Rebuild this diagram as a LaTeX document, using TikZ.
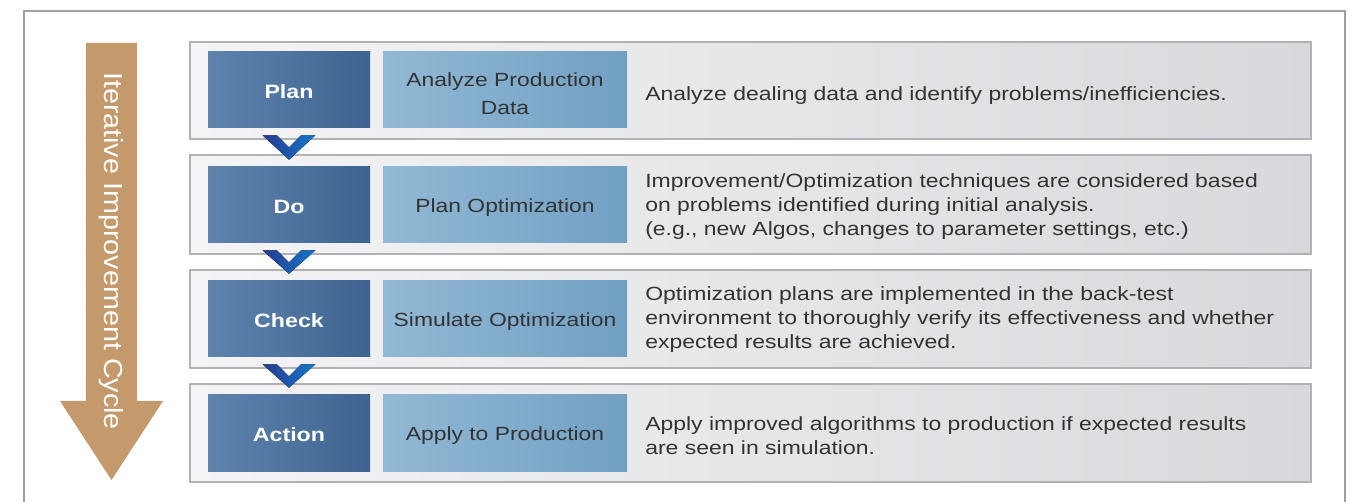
\documentclass[tikz,border=0pt]{standalone}
\usepackage{fontspec}
\setmainfont{Liberation Sans}[FakeStretch=1.2]
\newfontfamily\arrowfont{Liberation Sans}[FakeStretch=1.1]
\usetikzlibrary{fit,calc,shadows}
\definecolor{framegray}{HTML}{A0A0A0}
\definecolor{rowL}{HTML}{F4F4F6}
\definecolor{rowR}{HTML}{D8D9DC}
\definecolor{rowB}{HTML}{B2B2B4}
\definecolor{darkL}{HTML}{5E84AE}
\definecolor{darkR}{HTML}{3D6490}
\definecolor{liteL}{HTML}{92B9D5}
\definecolor{liteR}{HTML}{72A0C3}
\definecolor{txt}{HTML}{333333}
\definecolor{chevL}{HTML}{263A8E}
\definecolor{chevR}{HTML}{1579C9}
\definecolor{arrowcol}{HTML}{C49A6C}
\tikzset{
  rowbox/.style={draw=rowB, line width=0.8pt, left color=rowL, right color=rowR, inner sep=0pt,
     drop shadow={shadow xshift=0.8pt, shadow yshift=-0.8pt, opacity=0.35}},
  phasebox/.style={left color=darkL, right color=darkR, inner sep=0pt},
  titlebox/.style={left color=liteL, right color=liteR, inner sep=0pt},
  phasetext/.style={text=white, font=\fontsize{14.5}{17}\selectfont\bfseries},
  titletext/.style={text=txt, align=center, font=\fontsize{14.3}{21}\selectfont},
  desc/.style={anchor=west, align=left, text=txt, inner sep=0pt, font=\fontsize{14.35}{18}\selectfont},
  chevron/.style={left color=chevL, right color=chevR, draw=none},
}
\begin{document}
\begin{tikzpicture}[x=0.75pt, y=-0.75pt]
\useasboundingbox (0,0) rectangle (1354,502);
% frame
\draw[framegray, line width=1.1pt] (24,510) -- (24,11) -- (1345,11) -- (1345,510);
% iterative arrow
\fill[arrowcol] (86,43) -- (137,43) -- (137,401) -- (163,401) -- (111.5,480) -- (60,401) -- (86,401) -- cycle;
\node[rotate=-90, text=white, font=\arrowfont\fontsize{19.6}{22}\selectfont] (cyc) at (111.5,251) {Iterative Improvement Cycle};
% rows
\foreach \i/\t/\b in {1/42/139, 2/155/254, 3/270/368, 4/384/482}{
  \node[rowbox, fit={(190,\t)(1311,\b)}] (row\i) {};
}
% row 1
\node[phasebox, fit={(208,52)(370,128)}] (d1) {};
\node[phasetext] (p1) at ($(d1.center)+(0,1.5)$) {Plan};
\node[titlebox, fit={(383,52)(627,128)}] (l1) {};
\node[titletext] (t1) at ($(l1.center)+(0,4)$) {Analyze Production\\Data};
\node[desc] (e1) at (645,96) {Analyze dealing data and identify problems/inefficiencies.};
% row 2
\node[phasebox, fit={(208,167)(370,243)}] (d2) {};
\node[phasetext] (p2) at ($(d2.center)+(0,2)$) {Do};
\node[titlebox, fit={(383,167)(627,243)}] (l2) {};
\node[titletext] (t2) at ($(l2.center)+(0,3)$) {Plan Optimization};
\node[desc] (e2) at (645,207) {Improvement/Optimization techniques are considered based\\on problems identified during initial analysis.\\(e.g., new Algos, changes to parameter settings, etc.)};
% row 3
\node[phasebox, fit={(208,281)(370,357)}] (d3) {};
\node[phasetext] (p3) at ($(d3.center)+(0,1.5)$) {Check};
\node[titlebox, fit={(383,281)(627,357)}] (l3) {};
\node[titletext] (t3) at ($(l3.center)+(0,3)$) {Simulate Optimization};
\node[desc] (e3) at (645,320) {Optimization plans are implemented in the back-test\\environment to thoroughly verify its effectiveness and whether\\expected results are achieved.};
% row 4
\node[phasebox, fit={(208,395)(370,471)}] (d4) {};
\node[phasetext] (p4) at ($(d4.center)+(0,1.5)$) {Action};
\node[titlebox, fit={(383,395)(627,471)}] (l4) {};
\node[titletext] (t4) at ($(l4.center)+(0,3)$) {Apply to Production};
\node[desc] (e4) at (645,436) {Apply improved algorithms to production if expected results\\are seen in simulation.};
% chevrons
\foreach \a/\b in {d1/d2, d2/d3, d3/d4}{
  \fill[chevron] ($(\a.south)+(-26.5,7)$) -- ($(\b.north)+(0,-7)$) -- ($(\a.south)+(26.5,7)$)
     -- ($(\a.south)+(12,7)$) -- ($(\a.south)+(0,19)$) -- ($(\a.south)+(-12,7)$) -- cycle;
}
\end{tikzpicture}
\end{document}
